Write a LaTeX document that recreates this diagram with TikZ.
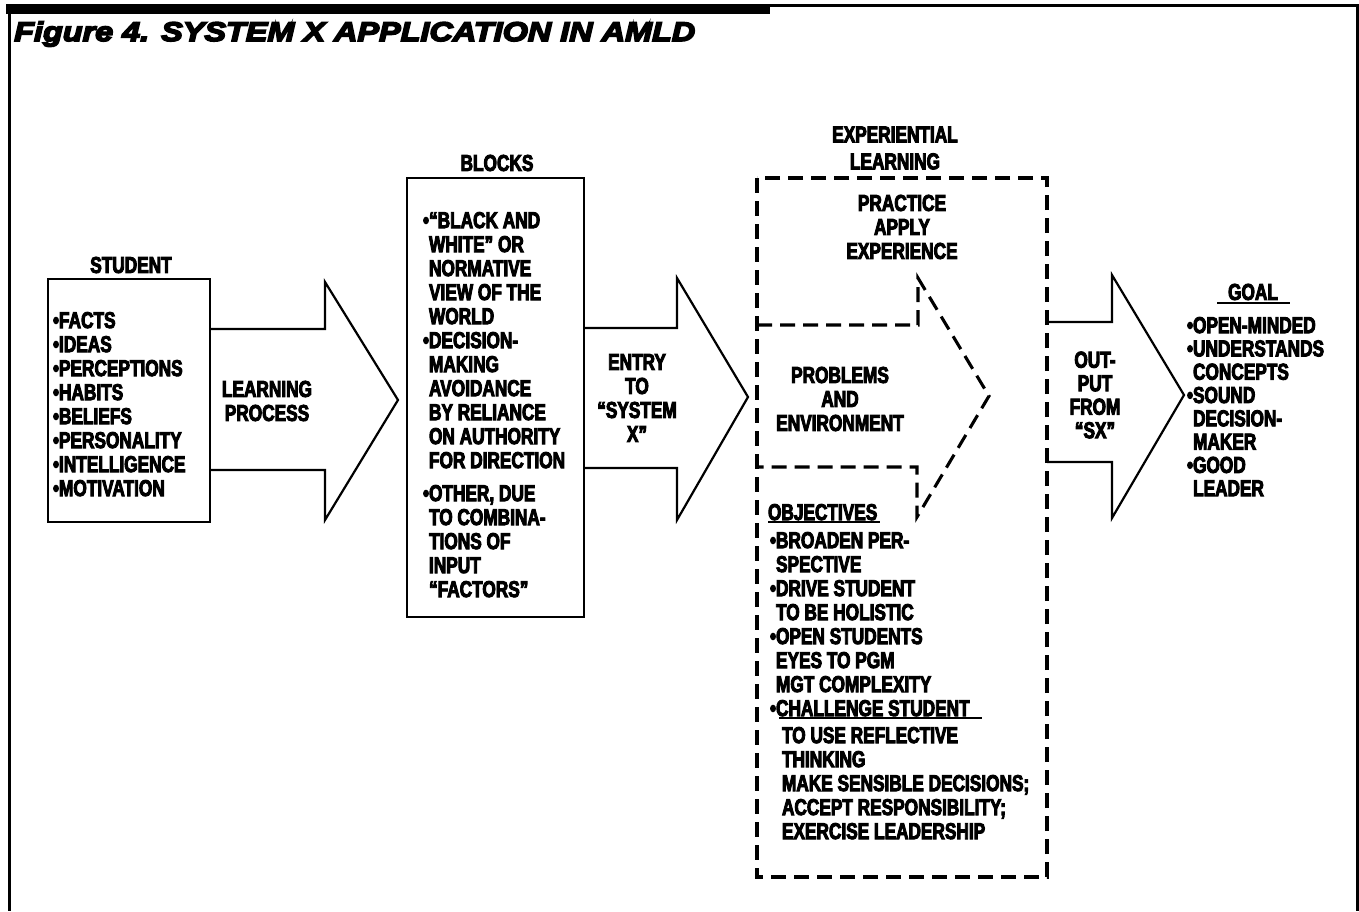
\documentclass[tikz,border=0pt]{standalone}
\usepackage{fontspec}
% condensed heavy face for the body text, extended heavy oblique for the heading
\newfontfamily\condfont[FakeStretch=0.75,FakeBold=4]{Liberation Sans Bold}
\newfontfamily\headfont[FakeStretch=1.2,FakeBold=6]{Liberation Sans Bold Italic}
\newcommand\nobul{\phantom{\textbullet}}

\begin{document}
\begin{tikzpicture}[x=1pt,y=-1pt,
  txt/.style={font=\condfont\fontsize{23}{24}\selectfont, inner sep=0pt, outer sep=0pt},
  lst/.style={txt, align=left, anchor=north west},
  ctr/.style={txt, align=center},
  box/.style={draw, line width=2.5pt, inner sep=0pt, outer sep=0pt},
  blockarrow/.style={line width=2.2pt, line join=miter},
  dashline/.style={line width=3.1pt, dash pattern=on 15pt off 8pt},
  rule/.style={line width=2pt}
]
\useasboundingbox (0,0) rectangle (1359,911);

% page frame with the heavy rule over the heading
\fill (6,4) rectangle (770,14);
\draw[line width=3pt] (770,5.5) -- (1357,5.5) -- (1357,911);
\draw[line width=3pt] (9.5,14) -- (9.5,911);

\node[inner sep=0pt, anchor=base west, font=\headfont\fontsize{27}{30}\selectfont] (title) at (14,41)
  {Figure 4. SYSTEM X APPLICATION IN AMLD};

% ---- student ----
\node[box, minimum width=162pt, minimum height=243pt] (student) at (129,400.5) {};
\node[ctr] (studentlbl) at (131,265) {STUDENT};
\node[lst] (studentitems) at (53,312) {\textbullet FACTS\\\textbullet IDEAS\\\textbullet PERCEPTIONS\\\textbullet HABITS\\\textbullet BELIEFS\\\textbullet PERSONALITY\\\textbullet INTELLIGENCE\\\textbullet MOTIVATION};

% learning process arrow
\draw[blockarrow] (student.east |- 0,329) -- (325,329) -- (325,282) -- (398,400) -- (325,520) -- (325,470) -- (student.east |- 0,470);
\node[ctr] (learnlbl) at (267,401) {LEARNING\\PROCESS};

% ---- blocks ----
\node[box, minimum width=177pt, minimum height=439pt] (blocks) at (495.5,397.5) {};
\node[ctr] (blockslbl) at (497,163) {BLOCKS};
\node[lst] (blockitems) at (423,212) {\textbullet“BLACK AND\\\nobul WHITE” OR\\\nobul NORMATIVE\\\nobul VIEW OF THE\\\nobul WORLD\\\textbullet DECISION-\\\nobul MAKING\\\nobul AVOIDANCE\\\nobul BY RELIANCE\\\nobul ON AUTHORITY\\\nobul FOR DIRECTION\\[9pt]\textbullet OTHER, DUE\\\nobul TO COMBINA-\\\nobul TIONS OF\\\nobul INPUT\\\nobul “FACTORS”};

% entry arrow
\draw[blockarrow] (blocks.east |- 0,328) -- (677,328) -- (677,278) -- (748,397) -- (677,520) -- (677,468) -- (blocks.east |- 0,468);
\node[ctr] (entrylbl) at (637,398) {ENTRY\\TO\\“SYSTEM\\X”};

% ---- experiential learning ----
\node[ctr, font=\condfont\fontsize{23}{27}\selectfont] (explbl) at (895,148) {EXPERIENTIAL\\LEARNING};
\node[box, draw=none, minimum width=290pt, minimum height=699pt] (exp) at (902,527.5) {};
\draw[dashline] (exp.north west) rectangle (exp.south east);
\node[ctr] (practicelbl) at (902,227) {PRACTICE\\APPLY\\EXPERIENCE};
\draw[dashline] (exp.west |- 0,325) -- (918,325) -- (918,278) -- (989,396) -- (917,517) -- (917,467) -- (exp.west |- 0,467);
\node[ctr] (problemslbl) at (840,399) {PROBLEMS\\AND\\ENVIRONMENT};

\node[lst] (objhead) at (768,504) {OBJECTIVES};
\draw[rule] (objhead.south west |- 0,522) -- (880,522);
\node[lst] (objlist) at (770,532) {\textbullet BROADEN PER-\\\nobul SPECTIVE\\\textbullet DRIVE STUDENT\\\nobul TO BE HOLISTIC\\\textbullet OPEN STUDENTS\\\nobul EYES TO PGM\\\nobul MGT COMPLEXITY\\\textbullet CHALLENGE STUDENT};
\draw[rule] (779,718) -- (982,718);
\node[lst] (objrest) at (782,727) {TO USE REFLECTIVE\\THINKING\\MAKE SENSIBLE DECISIONS;\\ACCEPT RESPONSIBILITY;\\EXERCISE LEADERSHIP};

% output arrow
\draw[blockarrow] (exp.east |- 0,322) -- (1112,322) -- (1112,275) -- (1184,395) -- (1112,518) -- (1112,462) -- (exp.east |- 0,462);
\node[ctr, font=\condfont\fontsize{23}{23.5}\selectfont] (outputlbl) at (1095,395) {OUT-\\PUT\\FROM\\“SX”};

% ---- goal ----
\node[ctr] (goallbl) at (1253,292) {GOAL};
\draw[rule] (1217,303) -- (1290,303);
\node[lst, font=\condfont\fontsize{23}{23.3}\selectfont] (goalitems) at (1187,317) {\textbullet OPEN-MINDED\\\textbullet UNDERSTANDS\\\nobul CONCEPTS\\\textbullet SOUND\\\nobul DECISION-\\\nobul MAKER\\\textbullet GOOD\\\nobul LEADER};
\end{tikzpicture}
\end{document}
